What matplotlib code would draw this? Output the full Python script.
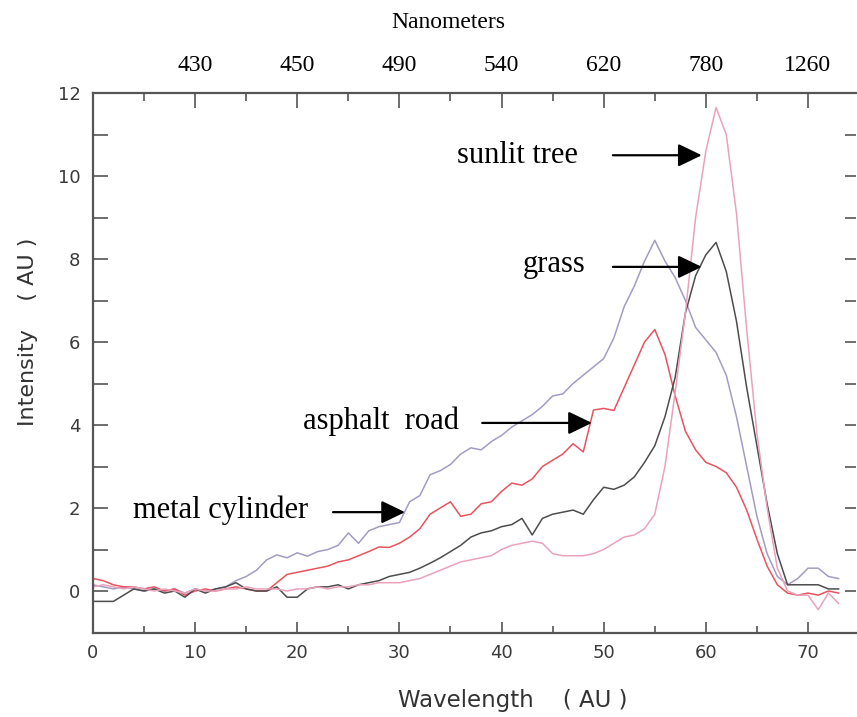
import numpy as np
import matplotlib
matplotlib.use("Agg")
import matplotlib.pyplot as plt
from matplotlib.ticker import MultipleLocator, FixedLocator, NullFormatter

# ---------------- data ----------------
wavelength = list(range(0, 74))

metal_cylinder = [0.15, 0.1, 0.05, 0.1, 0.05, 0.0, 0.05, 0.0, 0.05, -0.05,
                  0.05, 0.0, 0.05, 0.1, 0.25, 0.35, 0.5, 0.75, 0.87, 0.8,
                  0.92, 0.84, 0.95, 1.0, 1.1, 1.4, 1.15, 1.45, 1.55, 1.6,
                  1.65, 2.15, 2.3, 2.8, 2.9, 3.05, 3.3, 3.45, 3.4, 3.6,
                  3.75, 3.95, 4.1, 4.25, 4.45, 4.7, 4.75, 5.0, 5.2, 5.4,
                  5.6, 6.1, 6.85, 7.35, 7.95, 8.45, 7.95, 7.55, 7.0, 6.35,
                  6.05, 5.75, 5.2, 4.2, 3.0, 1.8, 0.9, 0.35, 0.15, 0.3,
                  0.55, 0.55, 0.35, 0.3]

asphalt_road = [0.3, 0.25, 0.15, 0.1, 0.1, 0.05, 0.1, 0.0, 0.05, -0.1,
                0.0, 0.05, 0.0, 0.05, 0.1, 0.05, 0.0, 0.0, 0.2, 0.4,
                0.45, 0.5, 0.55, 0.6, 0.7, 0.75, 0.85, 0.95, 1.06, 1.05,
                1.15, 1.3, 1.5, 1.85, 2.0, 2.15, 1.8, 1.85, 2.1, 2.15,
                2.4, 2.6, 2.55, 2.7, 3.0, 3.15, 3.3, 3.55, 3.35, 4.36,
                4.4, 4.35, 4.9, 5.45, 6.0, 6.3, 5.7, 4.7, 3.85, 3.4,
                3.1, 3.0, 2.85, 2.5, 1.95, 1.25, 0.6, 0.15, -0.05, -0.1,
                -0.05, -0.1, 0.0, -0.05]

grass = [-0.25, -0.25, -0.25, -0.1, 0.05, 0.0, 0.05, -0.05, 0.0, -0.15,
         0.05, -0.05, 0.05, 0.1, 0.2, 0.05, 0.0, 0.0, 0.1, -0.15,
         -0.15, 0.05, 0.1, 0.1, 0.15, 0.05, 0.15, 0.2, 0.25, 0.35,
         0.4, 0.45, 0.55, 0.67, 0.8, 0.95, 1.1, 1.3, 1.4, 1.45,
         1.55, 1.6, 1.75, 1.35, 1.75, 1.85, 1.9, 1.95, 1.85, 2.2,
         2.5, 2.45, 2.55, 2.75, 3.1, 3.5, 4.2, 5.15, 6.7, 7.6,
         8.1, 8.4, 7.7, 6.5, 4.9, 3.5, 2.1, 0.9, 0.15, 0.15,
         0.15, 0.15, 0.05, 0.05]

sunlit_tree = [0.1, 0.15, 0.1, 0.05, 0.1, 0.05, 0.0, 0.05, 0.0, -0.05,
               0.05, 0.0, 0.0, 0.05, 0.05, 0.1, 0.05, 0.05, 0.05, 0.0,
               0.05, 0.05, 0.1, 0.05, 0.1, 0.1, 0.15, 0.15, 0.2, 0.2,
               0.2, 0.25, 0.3, 0.4, 0.5, 0.6, 0.7, 0.75, 0.8, 0.85,
               1.0, 1.1, 1.15, 1.2, 1.15, 0.9, 0.85, 0.85, 0.85, 0.9,
               1.0, 1.15, 1.3, 1.35, 1.5, 1.85, 3.0, 4.8, 6.7, 9.0,
               10.6, 11.65, 11.0, 9.1, 6.3, 3.8, 2.0, 0.55, 0.0, -0.1,
               -0.1, -0.45, -0.05, -0.3]

bottom_ticks = [0, 10, 20, 30, 40, 50, 60, 70]
nm_ticks = [10, 20, 30, 40, 50, 60, 70]
nm_labels = ["430", "450", "490", "540", "620", "780", "1260"]
y_ticks = [0, 2, 4, 6, 8, 10, 12]

# ---------------- figure ----------------
fig = plt.figure(figsize=(8.57, 7.17), dpi=100)
W, H = 857, 717
x0px, x1px = 93, 856
y_top, y_bot = 93, 632.5
ax = fig.add_axes([x0px / W, 1 - y_bot / H, (x1px - x0px) / W, (y_bot - y_top) / H])

ax.plot(wavelength, metal_cylinder, color="#a49bc4", lw=1.1)
ax.plot(wavelength, asphalt_road, color="#e8535f", lw=1.1)
ax.plot(wavelength, grass, color="#4d4d4d", lw=1.1)
ax.plot(wavelength, sunlit_tree, color="#eaa2bb", lw=1.1)

ax.set_xlim(0, (x1px - x0px) / 10.214)
ax.set_ylim(-1, 12)

spine_c = "#555555"
for s in ax.spines.values():
    s.set_color(spine_c)
    s.set_linewidth(1.6)
ax.spines["right"].set_color("none")

ax.xaxis.set_major_locator(FixedLocator(bottom_ticks))
ax.xaxis.set_minor_locator(MultipleLocator(5))
ax.yaxis.set_major_locator(FixedLocator(y_ticks))
ax.yaxis.set_minor_locator(MultipleLocator(1))

ax.tick_params(axis="x", which="major", direction="in", length=8, width=1.2,
               color=spine_c, labelsize=13, labelcolor="#3a3a3a", pad=8,
               top=False)
ax.tick_params(axis="x", which="minor", direction="in", length=5, width=1.2,
               color=spine_c, top=False)
ax.tick_params(axis="y", which="both", direction="in", length=11, width=1.2,
               color=spine_c, labelsize=13, labelcolor="#3a3a3a", pad=9)

# right-side ticks (no labels)
axr = ax.secondary_yaxis("right")
axr.yaxis.set_major_locator(MultipleLocator(1))
axr.yaxis.set_major_formatter(NullFormatter())
axr.spines["right"].set_color("none")
axr.tick_params(axis="y", which="major", direction="in", length=8, width=1.2,
                color=spine_c)

# top axis (nanometers)
axt = ax.secondary_xaxis("top")
axt.xaxis.set_major_locator(FixedLocator(nm_ticks))
axt.set_xticklabels(nm_labels)
axt.xaxis.set_minor_locator(MultipleLocator(5))
axt.spines["top"].set_visible(False)
axt.tick_params(axis="x", which="major", direction="in", length=11, width=1.2,
                color=spine_c, labelsize=17, pad=12)
axt.tick_params(axis="x", which="minor", direction="in", length=6, width=1.2,
                color=spine_c)
for lab in axt.get_xticklabels():
    lab.set_family("Liberation Serif")

fig.text(448 / W, 1 - 22 / H, "Nanometers", family="Liberation Serif",
         fontsize=17, ha="center", va="center")

fig.text(513 / W, 1 - 700 / H, "Wavelength    ( AU )", fontsize=16.5,
         color="#333333", ha="center", va="center")
fig.text(28 / W, 1 - 332 / H, "Intensity    ( AU )", fontsize=16,
         color="#333333", ha="center", va="center", rotation=90)

# annotations
serif = "Liberation Serif"
arrow_kw = dict(arrowstyle="-|>,head_length=1.45,head_width=0.7",
                color="black", lw=1.6, shrinkA=0, shrinkB=0, mutation_scale=10)

def label(text, tx, ty, tail, tip, ay):
    ax.text(tx, ty, text, family=serif, fontsize=22, ha="left", va="baseline")
    ax.annotate("", xy=(tip, ay), xytext=(tail, ay), arrowprops=arrow_kw)

label("sunlit tree", 35.6, 10.31, 50.9, 59.6, 10.5)
label("grass", 42.1, 7.69, 50.9, 59.6, 7.81)
label("asphalt  road", 20.6, 3.9, 38.1, 48.85, 4.05)
label("metal cylinder", 3.9, 1.76, 23.5, 30.55, 1.9)

fig.savefig("out.png", dpi=100)
